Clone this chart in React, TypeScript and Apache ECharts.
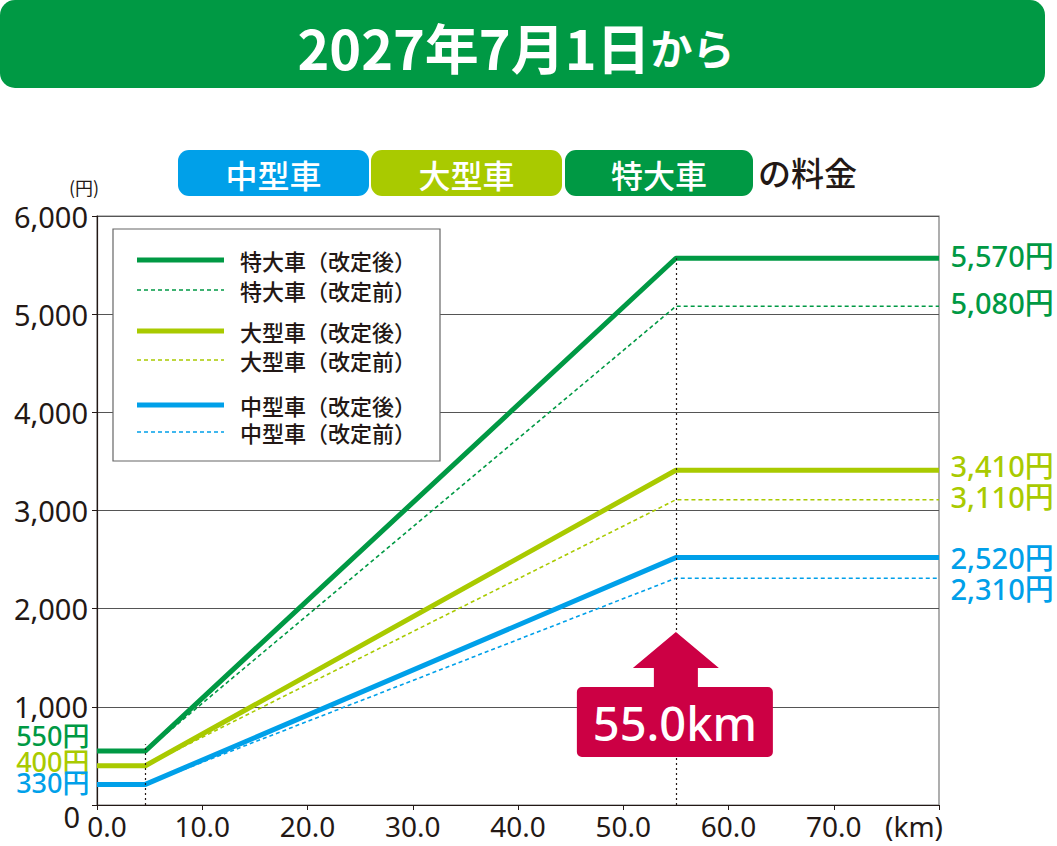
import React, { useRef, useEffect } from 'react';
import * as echarts from 'echarts';

const FONT = "'Noto Sans', 'Noto Sans CJK JP', sans-serif";
const JP = "'Noto Sans CJK JP', sans-serif";
const INK = '#231815';

const GREEN = '#009944';
const LIME = '#a9ca00';
const BLUE = '#00a0e9';
const CRIMSON = '#cc0044';

// distance breakpoints (km)
const afterKm = [0, 4.6, 55.0, 80];
const beforeKm = [4.6, 55.0, 80];
const capKm = 55.0;
const kmTicks = [0, 10, 20, 30, 40, 50, 60, 70];

// fares (yen)
const tokuAfter = [550, 550, 5570, 5570];
const tokuBefore = [550, 5080, 5080];
const ogataAfter = [400, 400, 3410, 3410];
const ogataBefore = [400, 3110, 3110];
const chuAfter = [210, 210, 2520, 2520];
const chuBefore = [210, 2310, 2310];

const minLabels = ['550円', '400円', '330円'];
const minOffsets = [-16, -4, -2];
const maxAfterLabels = ['5,570円', '3,410円', '2,520円'];
const maxBeforeLabels = ['5,080円', '3,110円', '2,310円'];
const maxAfterOffsets = [-3, -5, 0];
const maxBeforeOffsets = [-4, -3, 10];

const legendNames = [
  '特大車（改定後）', '特大車（改定前）',
  '大型車（改定後）', '大型車（改定前）',
  '中型車（改定後）', '中型車（改定前）',
];
const badges = ['中型車', '大型車', '特大車'];

const toPairs = (xs: number[], ys: number[]) => xs.map((x, i) => [x, ys[i]]);

const App: React.FC = () => {
  const ref = useRef<HTMLDivElement>(null);

  useEffect(() => {
    document.body.style.margin = '0';
    if (!ref.current) return;
    const chart = echarts.init(ref.current, undefined, { renderer: 'svg' });

    const colors = [GREEN, LIME, BLUE];
    const afters = [tokuAfter, ogataAfter, chuAfter];
    const befores = [tokuBefore, ogataBefore, chuBefore];

    const series: any[] = [];
    // dashed (before) first so solid lines sit on top
    befores.forEach((b, i) => {
      series.push({
        name: legendNames[i * 2 + 1],
        type: 'line',
        symbol: 'none',
        data: toPairs(beforeKm, b),
        lineStyle: { color: colors[i], width: 1.6, type: [4, 3] },
        z: 2,
        markPoint: {
          symbol: 'circle',
          symbolSize: 1,
          itemStyle: { color: 'transparent' },
          silent: true,
          data: [
            {
              coord: [80, b[b.length - 1]],
              label: {
                show: true,
                position: 'right',
                distance: 11,
                offset: [0, maxBeforeOffsets[i]],
                formatter: maxBeforeLabels[i],
                color: colors[i],
                fontSize: 29,
                fontWeight: 500,
                fontFamily: FONT,
              },
            },
          ],
        },
      });
    });
    afters.forEach((a, i) => {
      series.push({
        name: legendNames[i * 2],
        type: 'line',
        symbol: 'none',
        data: toPairs(afterKm, a),
        lineStyle: { color: colors[i], width: 5 },
        z: 3,
        markPoint: {
          symbol: 'circle',
          symbolSize: 1,
          itemStyle: { color: 'transparent' },
          silent: true,
          data: [
            {
              coord: [0, a[0]],
              label: {
                show: true,
                position: 'left',
                distance: 7,
                offset: [0, minOffsets[i]],
                formatter: minLabels[i],
                color: colors[i],
                fontSize: 27,
                fontWeight: 500,
                lineHeight: 22,
                fontFamily: FONT,
              },
            },
            {
              coord: [80, a[a.length - 1]],
              label: {
                show: true,
                position: 'right',
                distance: 11,
                offset: [0, maxAfterOffsets[i]],
                formatter: maxAfterLabels[i],
                color: colors[i],
                fontSize: 29,
                fontWeight: 500,
                fontFamily: FONT,
              },
            },
          ],
        },
        markLine:
          i === 0
            ? {
                silent: true,
                symbol: 'none',
                label: { show: false },
                lineStyle: { color: INK, width: 1.2, type: [2, 3] },
                data: [
                  [{ coord: [afterKm[1], 0] }, { coord: [afterKm[1], a[0] + 70] }],
                  [{ coord: [capKm, 0] }, { coord: [capKm, a[2]] }],
                ],
              }
            : undefined,
      });
    });

    chart.setOption({
      animation: false,
      textStyle: { fontFamily: FONT },
      grid: {
        left: 97,
        right: 118,
        top: 216,
        bottom: 41,
        show: true,
        borderColor: '#7a7a7a',
        borderWidth: 1.2,
        outerBoundsMode: 'none',
      },
      xAxis: {
        type: 'value',
        min: 0,
        max: 80,
        interval: 10,
        axisLine: { lineStyle: { color: INK, width: 1.2 } },
        axisTick: { show: true, length: 5, lineStyle: { color: INK } },
        splitLine: { show: false },
        axisLabel: {
          color: INK,
          fontSize: 28,
          lineHeight: 26,
          margin: 8,
          formatter: (v: number) =>
            kmTicks.includes(v) ? (v === 0 ? '{first|0.0}' : v.toFixed(1)) : '',
          rich: { first: { fontSize: 28, lineHeight: 26, color: INK, padding: [0, 0, 0, 20] } },
        },
      },
      yAxis: {
        type: 'value',
        min: 0,
        max: 6000,
        interval: 1000,
        axisLine: { show: true, lineStyle: { color: INK, width: 1.2 } },
        axisTick: { show: true, length: 5, lineStyle: { color: INK } },
        splitLine: { lineStyle: { color: '#555', width: 1.2 } },
        axisLabel: {
          color: INK,
          fontSize: 29,
          margin: 9,
          formatter: (v: number) =>
            v === 0 ? '{zero|0}' : v.toLocaleString('en-US'),
          rich: { zero: { fontSize: 29, color: INK, padding: [22, 8, 0, 0] } },
        },
      },
      series,
    });

    const [px, py] = chart.convertToPixel({ gridIndex: 0 }, [capKm, 0]) as number[];

    const legendRows = [260, 290, 331, 360, 405, 432];
    const legendEls: any[] = [
      {
        type: 'rect',
        z: 100,
        shape: { x: 113, y: 229, width: 327, height: 232 },
        style: { fill: '#fff', stroke: '#666', lineWidth: 1.2 },
      },
    ];
    legendRows.forEach((y, k) => {
      const solid = k % 2 === 0;
      const c = colors[Math.floor(k / 2)];
      legendEls.push({
        type: 'line',
        z: 101,
        shape: { x1: 137, y1: y, x2: 224, y2: y },
        style: solid
          ? { stroke: c, lineWidth: 5 }
          : { stroke: c, lineWidth: 1.6, lineDash: [4, 3] },
      });
      legendEls.push({
        type: 'text',
        z: 101,
        x: 240,
        y,
        style: {
          text: legendNames[k],
          fill: INK,
          font: `500 22px ${JP}`,
          verticalAlign: 'middle',
        },
      });
    });

    const badgeBoxes = [
      { x: 178, w: 191, c: BLUE },
      { x: 371, w: 191, c: LIME },
      { x: 565, w: 188, c: GREEN },
    ];
    const badgeEls: any[] = [];
    badgeBoxes.forEach((b, i) => {
      badgeEls.push({
        type: 'rect',
        shape: { x: b.x, y: 150, width: b.w, height: 46, r: 11 },
        style: { fill: b.c },
      });
      badgeEls.push({
        type: 'text',
        x: b.x + b.w / 2,
        y: 174,
        style: {
          text: badges[i],
          fill: '#fff',
          font: `500 32px ${JP}`,
          align: 'center',
          verticalAlign: 'middle',
        },
      });
    });

    chart.setOption({
      graphic: [
        {
          type: 'rect',
          shape: { x: 0, y: 0, width: 1045, height: 88, r: 15 },
          style: { fill: GREEN },
        },
        {
          type: 'text',
          x: 516,
          y: 46,
          style: {
            text: '{a|2027年7月1日}{b|から}',
            align: 'center',
            verticalAlign: 'middle',
            rich: {
              a: { fontSize: 54, fontWeight: 'bold', fill: '#fff', fontFamily: JP },
              b: { fontSize: 42, fontWeight: 'bold', fill: '#fff', fontFamily: JP },
            },
          },
        },
        ...badgeEls,
        {
          type: 'text',
          x: 758,
          y: 172,
          style: {
            text: 'の料金',
            fill: INK,
            font: `500 33px ${JP}`,
            verticalAlign: 'middle',
          },
        },
        {
          type: 'text',
          x: 84,
          y: 187,
          style: {
            text: '(円)',
            fill: INK,
            font: `18px ${JP}`,
            align: 'center',
            verticalAlign: 'middle',
          },
        },
        {
          type: 'text',
          x: 943,
          y: 826,
          style: {
            text: '(km)',
            fill: INK,
            font: `28px ${FONT}`,
            align: 'right',
            verticalAlign: 'middle',
          },
        },
        ...legendEls,
        {
          type: 'polygon',
          z: 100,
          shape: {
            points: [
              [px, py - 173],
              [px + 43, py - 137],
              [px + 22, py - 137],
              [px + 22, py - 114],
              [px - 22, py - 114],
              [px - 22, py - 137],
              [px - 43, py - 137],
            ],
          },
          style: { fill: CRIMSON },
        },
        {
          type: 'rect',
          z: 100,
          shape: { x: px - 99, y: py - 118, width: 196, height: 70, r: 5 },
          style: { fill: CRIMSON },
        },
        {
          type: 'text',
          z: 101,
          x: px - 1,
          y: py - 82,
          style: {
            text: '55.0km',
            fill: '#fff',
            font: `500 47px ${FONT}`,
            align: 'center',
            verticalAlign: 'middle',
          },
        },
      ],
    });

    return () => chart.dispose();
  }, []);

  return <div ref={ref} style={{ width: 1057, height: 846 }} />;
};

export default App;
